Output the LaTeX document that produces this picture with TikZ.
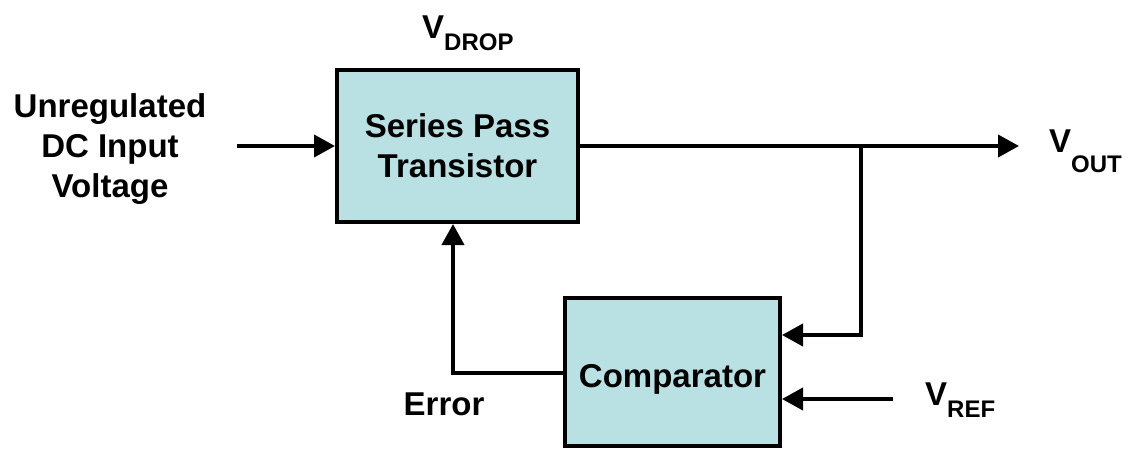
\documentclass[tikz,border=0pt]{standalone}
\usepackage{fontspec}
\setmainfont{Liberation Sans}
\usetikzlibrary{arrows.meta}
\definecolor{boxfill}{RGB}{185,224,227}
\tikzset{
  blk/.style={draw=black, line width=4pt, fill=boxfill, rectangle, align=center,
    font=\fontsize{33}{40}\selectfont\bfseries, inner sep=0pt},
  lbl/.style={font=\fontsize{33}{40}\selectfont\bfseries, inner sep=0pt, align=center},
  wire/.style={line width=4pt, line cap=butt, line join=miter},
  arr/.style={wire, -{Triangle[length=21pt,width=22pt]}},
}
\newcommand{\subtxt}[2]{\raisebox{-#2pt}{\fontsize{24}{24}\selectfont #1}}
\begin{document}
\begin{tikzpicture}[x=1pt,y=-1pt]
\useasboundingbox (0,0) rectangle (1132,450);
% blocks
\node[blk, minimum width=241pt, minimum height=152pt] (spt) at (457.5,146) {Series Pass\\Transistor};
\node[blk, minimum width=215pt, minimum height=148pt] (cmp) at (672.5,372) {};
\node[lbl, anchor=base] (cmptxt) at (672.5,387) {Comparator};
% labels
\node[lbl] (unreg) at (110,149) {Unregulated\\DC Input\\Voltage};
\node[lbl, anchor=base west] (vdrop) at (422,38) {V\subtxt{DROP}{12}};
\node[lbl, anchor=base west] (vout) at (1049,152) {V\subtxt{OUT}{20}};
\node[lbl, anchor=base west] (vref) at (925,405) {V\subtxt{REF}{12}};
\node[lbl, anchor=base] (err) at (444,415) {Error};
% coordinates
\coordinate (inS) at (237,146);
\coordinate (outE) at (1019,146);
\coordinate (j) at (861,146);
\coordinate (cmpA) at (861,335);
\coordinate (vrefS) at (893,399);
\coordinate (errC) at (453,373);
% connectors
\draw[arr] (inS) -- (spt.west);
\draw[arr] (spt.east) -- (outE);
\draw[arr] (j) -- (cmpA) -- (cmpA -| cmp.east);
\draw[arr] (vrefS) -- (vrefS -| cmp.east);
\draw[arr] (errC -| cmp.west) -- (errC) -- (errC |- spt.south);
\end{tikzpicture}
\end{document}
